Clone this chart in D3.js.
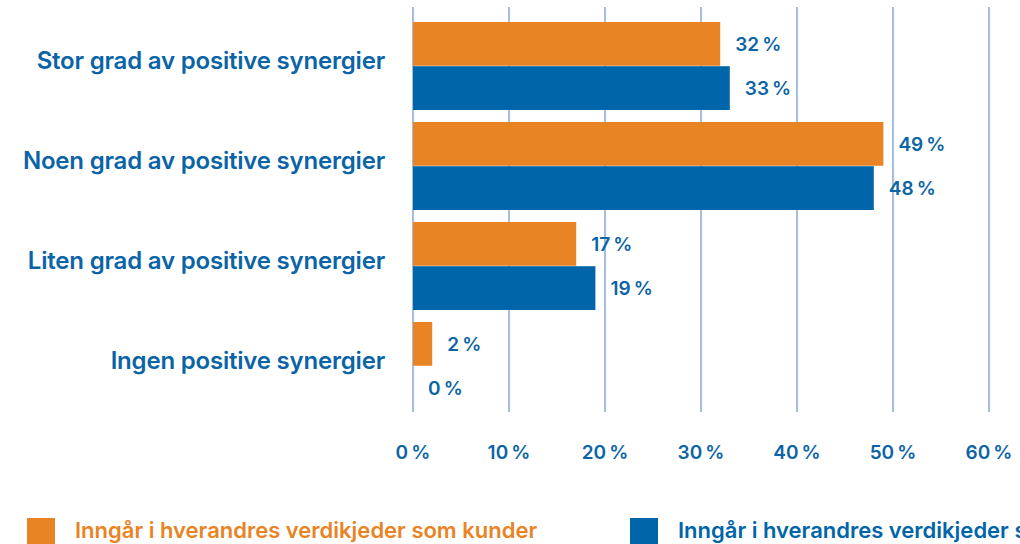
<!DOCTYPE html>
<html>
<head>
<meta charset="utf-8">
<script src="https://cdn.jsdelivr.net/npm/d3@7"></script>
<style>
  html, body { margin: 0; padding: 0; background: #fff; overflow: hidden; }
  svg { display: block; font-family: Inter, "Liberation Sans", Arial, sans-serif; }
</style>
</head>
<body>
<svg id="chart" width="1020" height="544"></svg>
<script>
// Answer categories (top to bottom)
const categories = [
  "Stor grad av positive synergier",
  "Noen grad av positive synergier",
  "Liten grad av positive synergier",
  "Ingen positive synergier"
];
// Series names
const seriesNames = [
  "Inngår i hverandres verdikjeder som kunder",
  "Inngår i hverandres verdikjeder som leverandører"
];
// Share of respondents (%) per series
const kunder = [32, 49, 17, 2];
const leverandorer = [33, 48, 19, 0];
// X-axis ticks (%)
const xTicks = [0, 10, 20, 30, 40, 50, 60];

const colors = ["#E98425", "#0065A9"];
const textBlue = "#0B64A6";
const gridColor = "#A4BEDF";
const pct = v => v + "\u202F%";

const svg = d3.select("#chart");

const x = d3.scaleLinear().domain([0, 60]).range([413, 989]);
const y = d3.scaleBand().domain(categories).range([16, 416])
  .paddingInner(0.12).paddingOuter(0.06);
const ySub = d3.scaleBand().domain([0, 1]).range([0, y.bandwidth()]).paddingInner(0.01);

// Vertical grid lines
svg.append("g")
  .selectAll("line")
  .data(xTicks)
  .join("line")
  .attr("x1", d => x(d)).attr("x2", d => x(d))
  .attr("y1", 7).attr("y2", 412)
  .attr("stroke", gridColor)
  .attr("stroke-width", 2);

// X-axis tick labels
svg.append("g")
  .selectAll("text")
  .data(xTicks)
  .join("text")
  .attr("x", d => x(d))
  .attr("y", 452)
  .attr("dy", "0.35em")
  .attr("text-anchor", "middle")
  .attr("fill", textBlue)
  .attr("font-size", 19)
  .attr("font-weight", 600)
  .attr("letter-spacing", 0.8)
  .text(d => pct(d));

// Category labels
svg.append("g")
  .selectAll("text")
  .data(categories)
  .join("text")
  .attr("x", 385)
  .attr("y", d => y(d) + y.bandwidth() / 2 - 5)
  .attr("dy", "0.35em")
  .attr("text-anchor", "end")
  .attr("fill", textBlue)
  .attr("font-size", 24)
  .attr("font-weight", 600)
  .attr("letter-spacing", -0.2)
  .text(d => d);

// Bars and value labels
const series = [kunder, leverandorer];
series.forEach((vals, si) => {
  const g = svg.append("g");
  g.selectAll("rect")
    .data(vals)
    .join("rect")
    .attr("x", x(0))
    .attr("y", (d, i) => y(categories[i]) + ySub(si))
    .attr("width", d => x(d) - x(0))
    .attr("height", ySub.bandwidth())
    .attr("fill", colors[si]);
  g.selectAll("text")
    .data(vals)
    .join("text")
    .attr("x", d => x(d) + 15)
    .attr("y", (d, i) => y(categories[i]) + ySub(si) + ySub.bandwidth() / 2)
    .attr("dy", "0.35em")
    .attr("fill", textBlue)
    .attr("font-size", 19)
    .attr("font-weight", 600)
    .attr("letter-spacing", 0.8)
    .text(d => pct(d));
});

// Legend
const legendX = [27, 630];
const legend = svg.append("g")
  .selectAll("g")
  .data(seriesNames)
  .join("g")
  .attr("transform", (d, i) => `translate(${legendX[i]},518)`);
legend.append("rect")
  .attr("width", 28).attr("height", 28)
  .attr("fill", (d, i) => colors[i]);
legend.append("text")
  .attr("x", 48).attr("y", 20)
  .attr("fill", (d, i) => colors[i])
  .attr("font-size", 22)
  .attr("font-weight", 600)
  .attr("letter-spacing", 0)
  .text(d => d);
</script>
</body>
</html>
